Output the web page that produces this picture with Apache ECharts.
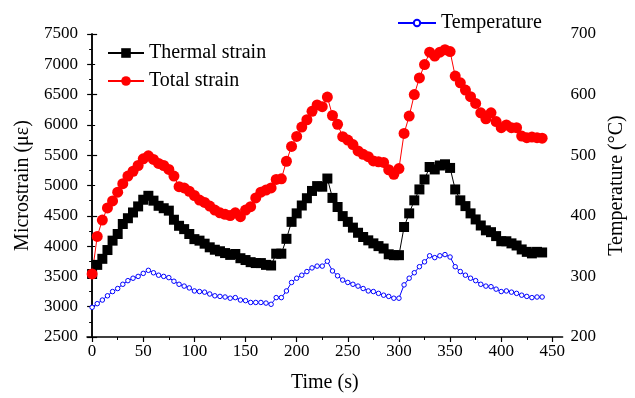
<!DOCTYPE html>
<html>
<head>
<meta charset="utf-8">
<script src="https://cdn.jsdelivr.net/npm/echarts@6/dist/echarts.min.js"></script>
<style>
html,body{margin:0;padding:0;background:#fff;}
#chart{width:635px;height:398px;}
</style>
</head>
<body>
<div id="chart"></div>
<script>
const time = [0,5,10,15,20,25,30,35,40,45,50,55,60,65,70,75,80,85,90,95,100,105,110,115,120,125,130,135,140,145,150,155,160,165,170,175,180,185,190,195,200,205,210,215,220,225,230,235,240,245,250,255,260,265,270,275,280,285,290,295,300,305,310,315,320,325,330,335,340,345,350,355,360,365,370,375,380,385,390,395,400,405,410,415,420,425,430,435,440];

const thermalStrain = [3540,3690,3790,3935,4090,4200,4365,4460,4555,4655,4765,4830,4750,4665,4625,4585,4435,4335,4280,4200,4115,4090,4040,3980,3940,3915,3885,3855,3870,3800,3770,3735,3720,3720,3690,3680,3875,3875,4120,4400,4540,4670,4790,4910,4990,4980,5115,4795,4645,4495,4400,4305,4220,4150,4095,4045,4000,3960,3865,3850,3850,4315,4540,4755,4935,5100,5305,5265,5330,5350,5290,4935,4755,4660,4540,4440,4340,4260,4230,4165,4080,4080,4045,4010,3945,3905,3880,3905,3895];

const totalStrain = [3540,4160,4430,4630,4745,4890,5030,5155,5235,5330,5440,5490,5430,5365,5330,5265,5155,4980,4960,4905,4835,4760,4720,4660,4595,4550,4525,4505,4550,4485,4595,4650,4795,4890,4925,4960,5100,5110,5400,5645,5810,5965,6085,6225,6330,6300,6460,6155,6010,5805,5750,5675,5570,5515,5475,5405,5390,5380,5260,5185,5280,5860,6145,6500,6775,6995,7200,7135,7200,7240,7210,6805,6695,6575,6465,6355,6200,6100,6200,6055,5955,6000,5955,5955,5815,5790,5800,5790,5780];

const temperature = [249,255,261,268,275,280,287,293,297,300,305,310,306,302,300,298,292,287,284,281,276,275,274,271,268,267,266,264,265,261,260,257,257,257,256,254,265,265,276,290,297,302,308,314,317,317,325,309,301,294,290,287,284,280,276,275,272,269,267,264,264,286,297,306,316,324,334,331,334,336,332,316,308,302,297,293,287,284,283,279,275,276,274,272,269,267,265,266,266];

const xTicks = [0,50,100,150,200,250,300,350,400,450];
const xMinorTicks = [25,75,125,175,225,275,325,375,425];

const pairs = (vals) => time.map((t, i) => [t, vals[i]]);
const plain = (v) => String(v);

const FONT = '"Liberation Serif", "Times New Roman", serif';
const chart = echarts.init(document.getElementById('chart'), null, {renderer: 'canvas'});

const axisLine = {show: true, lineStyle: {color: '#000', width: 1.5}};
chart.setOption({
  animation: false,
  backgroundColor: '#fff',
  textStyle: {fontFamily: FONT, color: '#000'},
  grid: {left: 87, right: 68, top: 34, bottom: 60, containLabel: false},
  legend: [
    {
      data: ['Thermal strain', 'Total strain'],
      orient: 'vertical',
      left: 102, top: 38,
      itemWidth: 36, itemHeight: 12, itemGap: 8,
      textStyle: {fontFamily: FONT, fontSize: 20, color: '#000'}
    },
    {
      data: ['Temperature'],
      left: 392, top: 8,
      itemWidth: 38, itemHeight: 8,
      textStyle: {fontFamily: FONT, fontSize: 20, color: '#000'}
    }
  ],
  xAxis: [
    {
      type: 'value', min: -5, max: 460,
      name: 'Time (s)', nameLocation: 'middle', nameGap: 36,
      nameTextStyle: {fontFamily: FONT, fontSize: 20, color: '#000'},
      axisLine: axisLine,
      axisTick: {show: true, length: 5, customValues: xTicks, lineStyle: {color: '#000', width: 1.2}},
      axisLabel: {customValues: xTicks, formatter: plain, fontFamily: FONT, fontSize: 17, color: '#000', margin: 6},
      splitLine: {show: false}
    },
    {
      type: 'value', min: -5, max: 460, position: 'bottom',
      axisLine: {show: false},
      axisTick: {show: true, length: 3, customValues: xMinorTicks, lineStyle: {color: '#000', width: 1}},
      axisLabel: {show: false},
      splitLine: {show: false}
    }
  ],
  yAxis: [
    {
      type: 'value', min: 2500, max: 7500, interval: 500, position: 'left',
      name: 'Microstrain (με)', nameLocation: 'middle', nameGap: 52, nameRotate: 90,
      nameTextStyle: {fontFamily: FONT, fontSize: 20, color: '#000'},
      axisLine: axisLine,
      axisTick: {show: true, length: 5, lineStyle: {color: '#000', width: 1.2}},
      minorTick: {show: true, splitNumber: 2, length: 3, lineStyle: {color: '#000', width: 1}},
      axisLabel: {formatter: plain, fontFamily: FONT, fontSize: 17, color: '#000', margin: 9},
      splitLine: {show: false}
    },
    {
      type: 'value', min: 200, max: 700, interval: 100, position: 'right',
      name: 'Temperature (°C)', nameLocation: 'middle', nameGap: 42, nameRotate: 90,
      nameTextStyle: {fontFamily: FONT, fontSize: 20, color: '#000'},
      axisLine: axisLine,
      axisTick: {show: true, length: 5, lineStyle: {color: '#000', width: 1.2}},
      minorTick: {show: true, splitNumber: 2, length: 3, lineStyle: {color: '#000', width: 1}},
      axisLabel: {formatter: plain, fontFamily: FONT, fontSize: 17, color: '#000', margin: 8},
      splitLine: {show: false}
    }
  ],
  series: [
    {
      name: 'Temperature', type: 'line', xAxisIndex: 0, yAxisIndex: 1,
      data: pairs(temperature),
      symbol: 'circle', symbolSize: 4.5, showAllSymbol: true,
      lineStyle: {color: '#0000ff', width: 1},
      itemStyle: {color: '#fff', borderColor: '#0000ff', borderWidth: 1}
    },
    {
      name: 'Thermal strain', type: 'line', xAxisIndex: 0, yAxisIndex: 0,
      data: pairs(thermalStrain),
      symbol: 'rect', symbolSize: 10, showAllSymbol: true,
      lineStyle: {color: '#000', width: 1},
      itemStyle: {color: '#000'}
    },
    {
      name: 'Total strain', type: 'line', xAxisIndex: 0, yAxisIndex: 0,
      data: pairs(totalStrain),
      symbol: 'circle', symbolSize: 11, showAllSymbol: true,
      lineStyle: {color: '#ff0000', width: 1},
      itemStyle: {color: '#ff0000'}
    }
  ]
});
</script>
</body>
</html>
